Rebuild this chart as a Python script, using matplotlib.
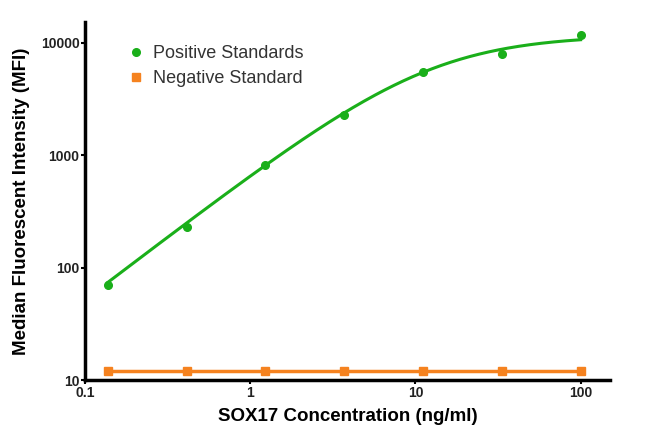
import numpy as np
import matplotlib
matplotlib.use("Agg")
import matplotlib.pyplot as plt
from matplotlib.ticker import FixedLocator, FixedFormatter, NullLocator

plt.rcParams['font.family'] = ['Liberation Sans', 'DejaVu Sans']

# Data
conc = [0.137, 0.412, 1.235, 3.70, 11.1, 33.3, 100.0]
positive = [70, 229, 815, 2270, 5470, 7900, 11700]
negative = [12, 12, 12, 12, 12, 12, 12]

# 4-parameter logistic fit parameters (curve drawn through positive standards)
fit_top = 11700.0
fit_ec50 = 12.47
fit_hill = 1.121

xticks = [0.1, 1, 10, 100]
xticklabels = ["0.1", "1", "10", "100"]
yticks = [10, 100, 1000, 10000]
yticklabels = ["10", "100", "1000", "10000"]

green = "#1aaf1a"
orange = "#f5821f"

fig = plt.figure(figsize=(6.5, 4.36), dpi=100)
ax = fig.add_axes([0.131, 0.128, 0.807, 0.822])

xs = np.logspace(np.log10(conc[0]), np.log10(conc[-1]), 300)
ys = fit_top / (1 + (fit_ec50 / xs) ** fit_hill)
ax.plot(xs, ys, color=green, lw=2.2, zorder=3)
ax.plot(conc, positive, 'o', color=green, ms=5.5, zorder=4, label="Positive Standards")
ax.plot(conc, negative, '-s', color=orange, ms=5.5, lw=2.5, zorder=3, label="Negative Standard")

ax.set_xscale("log")
ax.set_yscale("log")
ax.set_xlim(0.1, 150)
ax.set_ylim(10, 15400)

ax.xaxis.set_major_locator(FixedLocator(xticks))
ax.xaxis.set_major_formatter(FixedFormatter(xticklabels))
ax.yaxis.set_major_locator(FixedLocator(yticks))
ax.yaxis.set_major_formatter(FixedFormatter(yticklabels))
ax.xaxis.set_minor_locator(NullLocator())
ax.yaxis.set_minor_locator(NullLocator())

for s in ["top", "right"]:
    ax.spines[s].set_visible(False)
for s in ["left", "bottom"]:
    ax.spines[s].set_linewidth(2.5)
    ax.spines[s].set_color("black")

ax.tick_params(axis="both", which="major", length=3, width=1.5, direction="out",
               labelsize=10, pad=1)
for lab in ax.get_xticklabels() + ax.get_yticklabels():
    lab.set_fontweight("bold")
    lab.set_color("#222222")

ax.set_xlabel("SOX17 Concentration (ng/ml)", fontsize=13.5, fontweight="bold", labelpad=6)
ax.set_ylabel("Median Fluorescent Intensity (MFI)", fontsize=13.5, fontweight="bold", labelpad=8)

leg = ax.legend(loc="upper left", bbox_to_anchor=(0.057, 0.98), frameon=False,
                fontsize=13, handlelength=0.5, handletextpad=0.7, labelspacing=0.45,
                markerscale=1.0)
for t in leg.get_texts():
    t.set_color("#333333")
for h in leg.legend_handles:
    h.set_linestyle("")

fig.savefig("out.png", dpi=100)
